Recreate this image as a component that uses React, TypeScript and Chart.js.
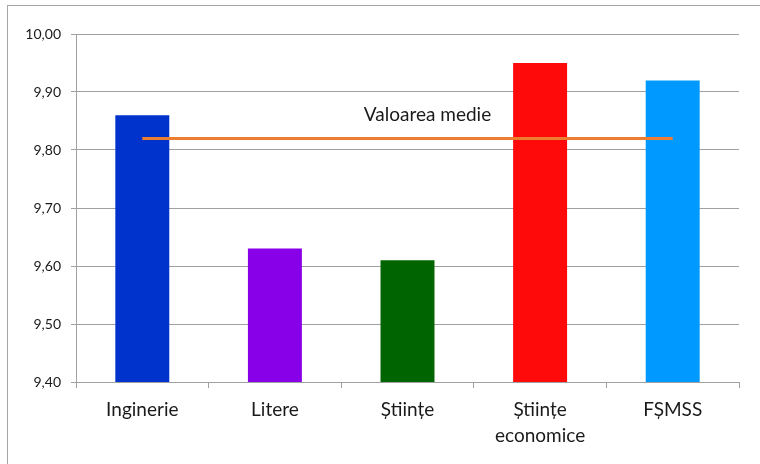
import React, { useEffect, useRef } from "react";
import { Chart, registerables } from "chart.js";

Chart.register(...registerables);

const categories: (string | string[])[] = ["Inginerie", "Litere", "Științe", ["Științe", "economice"], "FȘMSS"];
const values: number[] = [9.86, 9.63, 9.61, 9.95, 9.92];
const barColors: string[] = ["#0033CC", "#8800E8", "#006400", "#FF0A0A", "#0099FF"];
const meanValue = 9.82;
const meanLabel = "Valoarea medie";
const yMin = 9.4;
const yMax = 10.0;
const yStep = 0.1;

const FONT = "Lato, 'Open Sans', sans-serif";

const framePlugin = {
  id: "frame",
  beforeDraw(chart: any) {
    const ctx = chart.ctx;
    ctx.save();
    ctx.fillStyle = "#ffffff";
    ctx.fillRect(0, 0, chart.width, chart.height);
    ctx.strokeStyle = "#A6A6A6";
    ctx.lineWidth = 1;
    ctx.strokeRect(7.5, 5.5, chart.width + 20, chart.height + 20);
    ctx.restore();
  },
};

const meanLabelPlugin = {
  id: "meanLabel",
  afterDatasetsDraw(chart: any) {
    const ctx = chart.ctx;
    const x = chart.scales.x.getPixelForValue(2) + 20;
    const y = chart.scales.y.getPixelForValue(meanValue) - 24;
    ctx.save();
    ctx.font = `19px ${FONT}`;
    ctx.fillStyle = "#1a1a1a";
    ctx.textAlign = "center";
    ctx.textBaseline = "middle";
    ctx.fillText(meanLabel, x, y);
    ctx.restore();
  },
};

export default function App() {
  const ref = useRef<HTMLCanvasElement | null>(null);
  useEffect(() => {
    if (!ref.current) return;
    const chart = new Chart(ref.current, {
      type: "bar",
      data: {
        labels: categories,
        datasets: [
          {
            type: "line",
            label: meanLabel,
            data: categories.map(() => meanValue),
            borderColor: "#ED7D31",
            borderWidth: 3,
            pointRadius: 0,
            fill: false,
            order: 0,
          } as any,
          {
            type: "bar",
            label: "Medie",
            data: values,
            backgroundColor: barColors,
            barPercentage: 0.407,
            categoryPercentage: 1,
            order: 1,
          },
        ],
      },
      options: {
        animation: false,
        responsive: true,
        maintainAspectRatio: false,
        layout: { padding: { left: 0, top: 34, right: 21, bottom: 0 } },
        plugins: { legend: { display: false }, tooltip: { enabled: false } },
        scales: {
          x: {
            grid: { display: true, drawOnChartArea: false, drawTicks: true, tickLength: 6, color: "#A0A0A0", offset: true },
            border: { display: true, color: "#A0A0A0" },
            ticks: { color: "#1a1a1a", font: { family: FONT, size: 19, lineHeight: 1.37 }, padding: 9, maxRotation: 0, autoSkip: false },
            afterFit(scale: any) {
              scale.height = 82;
            },
          },
          y: {
            min: yMin,
            max: yMax,
            grid: { color: "#A0A0A0", tickLength: 5, drawTicks: true },
            border: { display: true, color: "#A0A0A0" },
            ticks: {
              stepSize: yStep,
              color: "#1a1a1a",
              padding: 10,
              font: { family: FONT, size: 14 },
              callback: (v: any) => Number(v).toFixed(2).replace(".", ","),
            },
            afterFit(scale: any) {
              scale.width = 76;
            },
          },
        },
      },
      plugins: [framePlugin, meanLabelPlugin],
    });
    return () => chart.destroy();
  }, []);
  return (
    <div style={{ position: "fixed", left: 0, top: 0, width: 760, height: 464, background: "#fff" }}>
      <canvas ref={ref} />
    </div>
  );
}
